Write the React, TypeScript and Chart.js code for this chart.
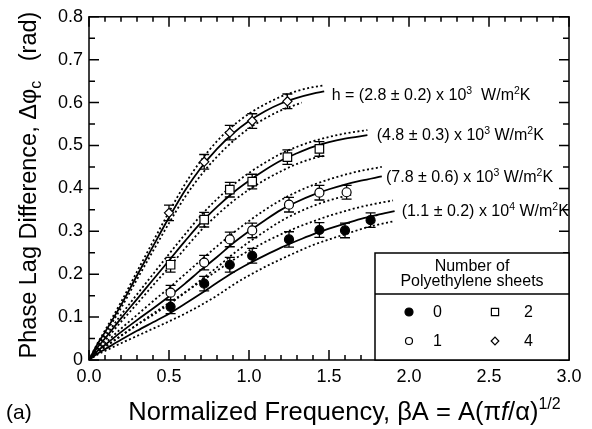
import React, { useEffect, useRef } from "react";
import { Chart, registerables } from "chart.js";

Chart.register(...registerables);

const FONT = '"Liberation Sans", Arial, Helvetica, sans-serif';

// ---- measured data points (normalized frequency, phase lag difference) ----
const N0_X = [0.51, 0.72, 0.88, 1.02, 1.25, 1.44, 1.6, 1.76];
const N0_Y = [0.124, 0.178, 0.222, 0.243, 0.281, 0.303, 0.302, 0.326];
const N0_ERR = [0.016, 0.017, 0.017, 0.017, 0.018, 0.017, 0.017, 0.017];

const N1_X = [0.51, 0.72, 0.88, 1.02, 1.25, 1.44, 1.61];
const N1_Y = [0.157, 0.227, 0.281, 0.302, 0.362, 0.39, 0.391];
const N1_ERR = [0.017, 0.017, 0.017, 0.017, 0.017, 0.017, 0.016];

const N2_X = [0.51, 0.72, 0.88, 1.02, 1.24, 1.44];
const N2_Y = [0.222, 0.327, 0.397, 0.416, 0.473, 0.492];
const N2_ERR = [0.017, 0.017, 0.017, 0.017, 0.017, 0.017];

const N4_X = [0.5, 0.72, 0.88, 1.02, 1.24];
const N4_Y = [0.343, 0.462, 0.53, 0.557, 0.603];
const N4_ERR = [0.018, 0.017, 0.017, 0.017, 0.017];

// ---- fitted curves (solid) and uncertainty bounds (dotted) ----
const D_FIT_X = [0, 0.05, 0.1, 0.2, 0.3, 0.4, 0.5, 0.6, 0.7, 0.8, 0.9, 1.0, 1.1, 1.2, 1.3, 1.4, 1.47];
const D_FIT_Y = [0, 0.035, 0.065, 0.128, 0.197, 0.265, 0.332, 0.395, 0.448, 0.492, 0.528, 0.557, 0.58, 0.598, 0.611, 0.621, 0.626];
const D_HI_Y = [0, 0.037, 0.069, 0.135, 0.206, 0.276, 0.345, 0.41, 0.465, 0.51, 0.546, 0.574, 0.596, 0.614, 0.627, 0.636, 0.64];
const D_LO_X = [0, 0.05, 0.1, 0.2, 0.3, 0.4, 0.5, 0.6, 0.7, 0.8, 0.9, 1.0, 1.1, 1.2, 1.3, 1.33];
const D_LO_Y = [0, 0.033, 0.061, 0.121, 0.188, 0.254, 0.319, 0.38, 0.431, 0.474, 0.51, 0.54, 0.563, 0.582, 0.596, 0.6];

const S_FIT_X = [0, 0.05, 0.1, 0.2, 0.3, 0.4, 0.5, 0.6, 0.7, 0.8, 0.9, 1.0, 1.1, 1.2, 1.3, 1.4, 1.5, 1.6, 1.74];
const S_FIT_Y = [0, 0.028, 0.05, 0.097, 0.142, 0.187, 0.232, 0.277, 0.32, 0.357, 0.39, 0.418, 0.443, 0.465, 0.482, 0.497, 0.508, 0.516, 0.524];
const S_HI_Y = [0, 0.031, 0.055, 0.105, 0.153, 0.2, 0.247, 0.293, 0.337, 0.375, 0.408, 0.436, 0.46, 0.481, 0.497, 0.51, 0.52, 0.528, 0.536];
const S_LO_X = [0, 0.05, 0.1, 0.2, 0.3, 0.4, 0.5, 0.6, 0.7, 0.8, 0.9, 1.0, 1.1, 1.2, 1.3, 1.4, 1.47];
const S_LO_Y = [0, 0.025, 0.045, 0.089, 0.131, 0.174, 0.216, 0.26, 0.302, 0.338, 0.37, 0.397, 0.42, 0.44, 0.457, 0.47, 0.476];

const C_FIT_X = [0, 0.05, 0.1, 0.2, 0.3, 0.4, 0.5, 0.6, 0.7, 0.8, 0.9, 1.0, 1.1, 1.2, 1.3, 1.4, 1.5, 1.6, 1.7, 1.83];
const C_FIT_Y = [0, 0.02, 0.035, 0.065, 0.093, 0.12, 0.148, 0.178, 0.21, 0.24, 0.272, 0.3, 0.326, 0.35, 0.369, 0.385, 0.398, 0.409, 0.418, 0.428];
const C_HI_Y = [0, 0.022, 0.039, 0.073, 0.105, 0.137, 0.168, 0.2, 0.233, 0.265, 0.296, 0.324, 0.35, 0.373, 0.392, 0.408, 0.421, 0.432, 0.441, 0.45];
const C_LO_X = [0, 0.05, 0.1, 0.2, 0.3, 0.4, 0.5, 0.6, 0.7, 0.8, 0.9, 1.0, 1.1, 1.2, 1.3, 1.4, 1.5, 1.6, 1.65];
const C_LO_Y = [0, 0.018, 0.031, 0.057, 0.082, 0.105, 0.13, 0.157, 0.187, 0.216, 0.247, 0.275, 0.3, 0.324, 0.343, 0.359, 0.372, 0.382, 0.386];

const F_FIT_X = [0, 0.05, 0.1, 0.2, 0.3, 0.4, 0.5, 0.6, 0.7, 0.8, 0.9, 1.0, 1.1, 1.2, 1.3, 1.4, 1.5, 1.6, 1.7, 1.8, 1.91];
const F_FIT_Y = [0, 0.014, 0.025, 0.047, 0.068, 0.088, 0.108, 0.131, 0.155, 0.18, 0.204, 0.225, 0.244, 0.262, 0.278, 0.293, 0.306, 0.318, 0.329, 0.338, 0.347];
const F_BND_X = [0, 0.05, 0.1, 0.2, 0.3, 0.4, 0.5, 0.6, 0.7, 0.8, 0.9, 1.0, 1.1, 1.2, 1.3, 1.4, 1.5, 1.6, 1.7, 1.8, 1.9];
const F_HI_Y = [0, 0.016, 0.03, 0.056, 0.082, 0.108, 0.133, 0.158, 0.183, 0.208, 0.233, 0.255, 0.275, 0.293, 0.309, 0.323, 0.336, 0.347, 0.357, 0.365, 0.372];
const F_LO_Y = [0, 0.012, 0.021, 0.039, 0.056, 0.073, 0.09, 0.108, 0.128, 0.15, 0.175, 0.197, 0.217, 0.235, 0.252, 0.268, 0.281, 0.293, 0.305, 0.315, 0.323];

// ---- axis ranges / labels ----
const X_MIN = 0, X_MAX = 3, X_STEP = 0.5;
const Y_MIN = 0, Y_MAX = 0.8, Y_STEP = 0.1;
const LEGEND_TITLE = ["Number of", "Polyethylene sheets"];
const LEGEND_LABELS = ["0", "1", "2", "4"];

type Seg = { t: string; size: number; dy?: number; italic?: boolean };

const ANNOTATIONS: { x: number; y: number; segs: Seg[] }[] = [
  { x: 1.517, y: 0.605, segs: [{ t: "h = (2.8 ± 0.2) x 10", size: 16 }, { t: "3", size: 10.5, dy: -6 }, { t: "  W/m", size: 16 }, { t: "2", size: 10.5, dy: -6 }, { t: "K", size: 16 }] },
  { x: 1.798, y: 0.512, segs: [{ t: "(4.8 ± 0.3) x 10", size: 16 }, { t: "3", size: 10.5, dy: -6 }, { t: " W/m", size: 16 }, { t: "2", size: 10.5, dy: -6 }, { t: "K", size: 16 }] },
  { x: 1.856, y: 0.415, segs: [{ t: "(7.8 ± 0.6) x 10", size: 16 }, { t: "3", size: 10.5, dy: -6 }, { t: " W/m", size: 16 }, { t: "2", size: 10.5, dy: -6 }, { t: "K", size: 16 }] },
  { x: 1.954, y: 0.335, segs: [{ t: "(1.1 ± 0.2) x 10", size: 16 }, { t: "4", size: 10.5, dy: -6 }, { t: " W/m", size: 16 }, { t: "2", size: 10.5, dy: -6 }, { t: "K", size: 16 }] },
];

const pts = (xs: number[], ys: number[]) => xs.map((x, i) => ({ x, y: ys[i] }));

function drawRich(ctx: CanvasRenderingContext2D, segs: Seg[], x: number, y: number, align: "left" | "center") {
  const fontOf = (s: Seg) => `${s.italic ? "italic " : ""}${s.size}px ${FONT}`;
  let total = 0;
  for (const s of segs) {
    ctx.font = fontOf(s);
    total += ctx.measureText(s.t).width;
  }
  let cx = align === "center" ? x - total / 2 : x;
  ctx.textAlign = "left";
  ctx.textBaseline = "alphabetic";
  for (const s of segs) {
    ctx.font = fontOf(s);
    ctx.fillText(s.t, cx, y + (s.dy || 0));
    cx += ctx.measureText(s.t).width;
  }
}

function marker(ctx: CanvasRenderingContext2D, style: string, x: number, y: number, r: number, fill: string) {
  ctx.beginPath();
  if (style === "circle") ctx.arc(x, y, r, 0, Math.PI * 2);
  else if (style === "rect") ctx.rect(x - r, y - r, 2 * r, 2 * r);
  else if (style === "diamond") {
    ctx.moveTo(x - r, y);
    ctx.lineTo(x, y - r);
    ctx.lineTo(x + r, y);
    ctx.lineTo(x, y + r);
    ctx.closePath();
  }
  ctx.fillStyle = fill;
  ctx.fill();
  ctx.lineWidth = 1.2;
  ctx.strokeStyle = "#000";
  ctx.stroke();
}

const errorBarPlugin = {
  id: "errorBars",
  beforeDatasetsDraw(chart: any) {
    const { ctx, scales } = chart;
    const xs = scales.x, ys = scales.y;
    ctx.save();
    ctx.strokeStyle = "#000";
    ctx.lineWidth = 1.3;
    chart.data.datasets.forEach((ds: any) => {
      if (!ds.errorBars) return;
      ds.data.forEach((p: any, i: number) => {
        const e = ds.errorBars[i];
        const px = xs.getPixelForValue(p.x);
        const yt = ys.getPixelForValue(p.y + e);
        const yb = ys.getPixelForValue(p.y - e);
        ctx.beginPath();
        ctx.moveTo(px, yt);
        ctx.lineTo(px, yb);
        ctx.moveTo(px - 5, yt);
        ctx.lineTo(px + 5, yt);
        ctx.moveTo(px - 5, yb);
        ctx.lineTo(px + 5, yb);
        ctx.stroke();
      });
    });
    ctx.restore();
  },
};

const decorPlugin = {
  id: "decor",
  afterDraw(chart: any) {
    const { ctx, chartArea, scales } = chart;
    const { left, right, top, bottom } = chartArea;
    const xs = scales.x, ys = scales.y;
    ctx.save();
    ctx.strokeStyle = "#000";
    ctx.fillStyle = "#000";
    ctx.lineWidth = 1.5;

    // ticks (inward) on all four sides
    ctx.beginPath();
    for (let i = 0; i <= 30; i++) {
      const v = i / 10;
      const px = xs.getPixelForValue(v);
      const len = i % 5 === 0 ? 10 : 5;
      ctx.moveTo(px, bottom);
      ctx.lineTo(px, bottom - len);
      ctx.moveTo(px, top);
      ctx.lineTo(px, top + len);
    }
    for (let i = 0; i <= 16; i++) {
      const v = i * 0.05;
      const py = ys.getPixelForValue(v);
      const len = i % 2 === 0 ? 10 : 6;
      ctx.moveTo(left, py);
      ctx.lineTo(left + len, py);
      ctx.moveTo(right, py);
      ctx.lineTo(right - len, py);
    }
    ctx.stroke();
    ctx.strokeRect(left, top, right - left, bottom - top);

    // annotations
    ctx.fillStyle = "#000";
    for (const a of ANNOTATIONS) {
      drawRich(ctx, a.segs, xs.getPixelForValue(a.x), ys.getPixelForValue(a.y), "left");
    }

    // legend box
    const lx = 375, ly = 253;
    ctx.fillStyle = "#fff";
    ctx.fillRect(lx, ly, right - lx, bottom - ly);
    ctx.strokeRect(lx, ly, right - lx, bottom - ly);
    ctx.beginPath();
    ctx.moveTo(lx, 294);
    ctx.lineTo(right, 294);
    ctx.stroke();
    ctx.fillStyle = "#000";
    ctx.font = `16px ${FONT}`;
    ctx.textAlign = "center";
    ctx.textBaseline = "alphabetic";
    const lcx = (lx + right) / 2;
    ctx.fillText(LEGEND_TITLE[0], lcx, 271);
    ctx.fillText(LEGEND_TITLE[1], lcx, 286);
    const rows = [
      { mx: 409, ty: 312, style: "circle", fill: "#000", r: 4, label: LEGEND_LABELS[0], tx: 437.5 },
      { mx: 409, ty: 341, style: "circle", fill: "#fff", r: 3.5, label: LEGEND_LABELS[1], tx: 437.5 },
      { mx: 495, ty: 312, style: "rect", fill: "#fff", r: 3.6, label: LEGEND_LABELS[2], tx: 528.5 },
      { mx: 495, ty: 341, style: "diamond", fill: "#fff", r: 3.8, label: LEGEND_LABELS[3], tx: 528.5 },
    ];
    for (const r of rows) {
      marker(ctx, r.style, r.mx, r.ty, r.r, r.fill);
      ctx.fillStyle = "#000";
      ctx.font = `16px ${FONT}`;
      ctx.textAlign = "center";
      ctx.textBaseline = "middle";
      ctx.fillText(r.label, r.tx, r.ty + 1);
    }

    // axis titles
    ctx.fillStyle = "#000";
    drawRich(
      ctx,
      [
        { t: "Normalized Frequency, βA = A(π", size: 25.5 },
        { t: "f", size: 25.5, italic: true },
        { t: "/α)", size: 25.5 },
        { t: "1/2", size: 16, dy: -11 },
      ],
      344.5,
      420,
      "center"
    );
    ctx.save();
    ctx.translate(35.5, 185);
    ctx.rotate(-Math.PI / 2);
    drawRich(
      ctx,
      [
        { t: "Phase Lag Difference, Δφ", size: 23.5 },
        { t: "c", size: 16, dy: 5 },
        { t: "   (rad)", size: 23.5 },
      ],
      0,
      0,
      "center"
    );
    ctx.restore();

    ctx.font = `21px ${FONT}`;
    ctx.textAlign = "left";
    ctx.textBaseline = "alphabetic";
    ctx.fillText("(a)", 6, 419);
    ctx.restore();
  },
};

const lineDs = (data: any[], dashed: boolean) => ({
  data,
  showLine: true,
  pointRadius: 0,
  borderColor: "#000",
  borderWidth: dashed ? 1.8 : 1.8,
  borderDash: dashed ? [2, 2.5] : [],
  fill: false,
  cubicInterpolationMode: "monotone" as const,
  order: 2,
});

const markerDs = (data: any[], style: string, radius: number, fill: string, errs: number[]) => ({
  data,
  pointStyle: style,
  pointRadius: radius,
  pointBackgroundColor: fill,
  pointBorderColor: "#000",
  pointBorderWidth: 1.2,
  showLine: false,
  errorBars: errs,
  order: 0,
});

export default function App() {
  const ref = useRef<HTMLCanvasElement>(null);
  useEffect(() => {
    if (!ref.current) return;
    const chart = new Chart(ref.current, {
      type: "scatter",
      data: {
        datasets: [
          markerDs(pts(N0_X, N0_Y), "circle", 4.5, "#000", N0_ERR),
          markerDs(pts(N1_X, N1_Y), "circle", 4.5, "#fff", N1_ERR),
          markerDs(pts(N2_X, N2_Y), "rect", 6, "#fff", N2_ERR),
          markerDs(pts(N4_X, N4_Y), "rectRot", 4.6, "#fff", N4_ERR),
          lineDs(pts(D_FIT_X, D_FIT_Y), false),
          lineDs(pts(D_FIT_X, D_HI_Y), true),
          lineDs(pts(D_LO_X, D_LO_Y), true),
          lineDs(pts(S_FIT_X, S_FIT_Y), false),
          lineDs(pts(S_FIT_X, S_HI_Y), true),
          lineDs(pts(S_LO_X, S_LO_Y), true),
          lineDs(pts(C_FIT_X, C_FIT_Y), false),
          lineDs(pts(C_FIT_X, C_HI_Y), true),
          lineDs(pts(C_LO_X, C_LO_Y), true),
          lineDs(pts(F_FIT_X, F_FIT_Y), false),
          lineDs(pts(F_BND_X, F_HI_Y), true),
          lineDs(pts(F_BND_X, F_LO_Y), true),
        ] as any,
      },
      options: {
        animation: false,
        responsive: false,
        layout: { padding: { left: 0, top: 16, right: 23, bottom: 0 } },
        plugins: { legend: { display: false }, tooltip: { enabled: false } },
        scales: {
          x: {
            type: "linear",
            min: X_MIN,
            max: X_MAX,
            ticks: {
              stepSize: X_STEP,
              callback: (v: any) => Number(v).toFixed(1),
              font: { family: FONT, size: 18 },
              color: "#000",
              padding: 6,
              maxRotation: 0,
              autoSkip: false,
            },
            grid: { display: false, drawTicks: false },
            border: { display: false },
            afterFit: (s: any) => {
              s.height = 69;
            },
          },
          y: {
            type: "linear",
            min: Y_MIN,
            max: Y_MAX,
            ticks: {
              stepSize: Y_STEP,
              callback: (v: any) => (Number(v) === 0 ? "0" : Number(v).toFixed(1)),
              font: { family: FONT, size: 18 },
              color: "#000",
              padding: 6,
              autoSkip: false,
            },
            grid: { display: false, drawTicks: false },
            border: { display: false },
            afterFit: (s: any) => {
              s.width = 89;
            },
          },
        },
      } as any,
      plugins: [errorBarPlugin, decorPlugin],
    });
    return () => chart.destroy();
  }, []);
  return (
    <div style={{ position: "fixed", left: 0, top: 0, width: 592, height: 429, background: "#fff" }}>
      <canvas ref={ref} width={592} height={429} style={{ display: "block" }} />
    </div>
  );
}
